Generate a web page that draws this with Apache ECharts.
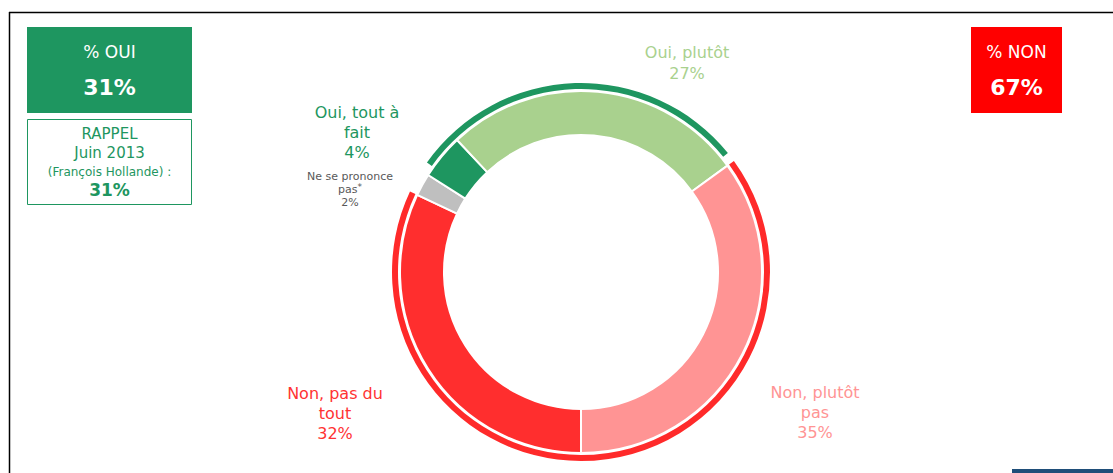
<!DOCTYPE html>
<html>
<head>
<meta charset="utf-8">
<script src="https://cdn.jsdelivr.net/npm/echarts@6/dist/echarts.min.js"></script>
<style>
html,body{margin:0;padding:0;background:#fff;}
#chart{width:1113px;height:473px;}
</style>
</head>
<body>
<div id="chart"></div>
<script>
// ---- Data ----
const categories = ['Non, pas du tout', 'Ne se prononce pas', 'Oui, tout à fait', 'Oui, plutôt', 'Non, plutôt pas'];
const values = [32, 2, 4, 27, 35];
const groups = ['non', 'nsp', 'oui', 'oui', 'non'];
const labelTexts = ['Non, pas du\ntout', 'Ne se prononce\npas{sup|*}', 'Oui, tout à\nfait', 'Oui, plutôt', 'Non, plutôt\npas'];
const ouiTitle = '% OUI';
const nonTitle = '% NON';
const rappelLines = ['RAPPEL', 'Juin 2013', '(François Hollande) :'];
const rappelValue = 31;

// ---- Styles ----
const FONT = '"DejaVu Sans", Verdana, sans-serif';
const GREEN_DARK = '#1e9660';
const RED = '#ff0000';
const segColors = ['#ff2e2e', '#bfbfbf', '#1e9660', '#a9d18e', '#ff9494'];
const labelColors = ['#ff3333', '#595959', '#1e9660', '#a9d18e', '#ff9494'];
const labelPos = [[335, 413], [350, 189], [357, 132], [687, 63], [815, 412]];
const labelSizes = [16, 11, 16, 16, 16];
const labelLH = [20, 13, 20, 21, 20];
const CENTER = [581, 272];
const GAP_DEG = 3;

const sum = (g) => values.reduce((s, v, i) => s + (groups[i] === g ? v : 0), 0);
const ouiTotal = sum('oui');
const nonTotal = sum('non');
const gap = GAP_DEG / 3.6;

const mainData = categories.map((c, i) => ({
  name: c,
  value: values[i],
  itemStyle: { color: segColors[i] },
  label: {
    formatter: labelTexts[i] + '\n' + values[i] + '%',
    color: labelColors[i],
    fontSize: labelSizes[i],
    lineHeight: labelLH[i],
    rich: { sup: { fontSize: 9, verticalAlign: 'top', color: labelColors[i], lineHeight: 10, padding: [0, 0, 5, 0] } }
  }
}));

// outer group arcs
const outerData = [];
values.forEach((v, i) => {
  if (groups[i] === 'non') outerData.push({ value: v, itemStyle: { color: '#ff2a2a' } });
  else if (groups[i] === 'nsp') outerData.push({ value: v + gap, itemStyle: { color: 'rgba(0,0,0,0)' } });
});
const ouiArc = [
  { value: ouiTotal - 2 * gap, itemStyle: { color: GREEN_DARK } },
  { value: gap, itemStyle: { color: 'rgba(0,0,0,0)' } }
];
outerData.splice(2, 0, ...ouiArc);

const chart = echarts.init(document.getElementById('chart'), null, { renderer: 'svg' });

const boxText = (x, y, text, size, color, bold) => ({
  type: 'text', x: x, y: y, silent: true,
  style: { text: text, fill: color, font: (bold ? 'bold ' : '') + size + 'px ' + FONT, align: 'center', verticalAlign: 'middle' }
});

chart.setOption({
  animation: false,
  textStyle: { fontFamily: FONT },
  series: [
    {
      type: 'pie',
      center: CENTER,
      radius: [137, 181],
      startAngle: 270,
      clockwise: true,
      silent: true,
      avoidLabelOverlap: false,
      itemStyle: { borderColor: '#fff', borderWidth: 2 },
      label: { show: true, position: 'outside', fontFamily: FONT, align: 'center' },
      labelLine: { show: false },
      labelLayout: function (p) {
        return { x: labelPos[p.dataIndex][0], y: labelPos[p.dataIndex][1], align: 'center', verticalAlign: 'middle' };
      },
      data: mainData
    },
    {
      type: 'pie',
      center: CENTER,
      radius: [183, 189],
      startAngle: 270,
      clockwise: true,
      silent: true,
      label: { show: false },
      labelLine: { show: false },
      data: outerData
    }
  ],
  graphic: [
    { type: 'line', silent: true, shape: { x1: 9, y1: 12.5, x2: 1113, y2: 12.5 }, style: { stroke: '#000', lineWidth: 1.5 } },
    { type: 'line', silent: true, shape: { x1: 9.5, y1: 12, x2: 9.5, y2: 473 }, style: { stroke: '#000', lineWidth: 1.5 } },
    { type: 'rect', silent: true, shape: { x: 1012, y: 469, width: 101, height: 4 }, style: { fill: '#1f4e79' } },
    { type: 'rect', silent: true, shape: { x: 27, y: 27, width: 165, height: 86 }, style: { fill: GREEN_DARK } },
    boxText(109.5, 52, ouiTitle, 17, '#fff', false),
    boxText(109.5, 87, ouiTotal + '%', 22, '#fff', true),
    { type: 'rect', silent: true, shape: { x: 27.5, y: 119.5, width: 164, height: 85 }, style: { fill: '#fff', stroke: GREEN_DARK, lineWidth: 1 } },
    boxText(109.5, 134, rappelLines[0], 15, GREEN_DARK, false),
    boxText(109.5, 153, rappelLines[1], 15, GREEN_DARK, false),
    boxText(109.5, 172, rappelLines[2], 12, GREEN_DARK, false),
    boxText(109.5, 190, rappelValue + '%', 17, GREEN_DARK, true),
    { type: 'rect', silent: true, shape: { x: 971, y: 27, width: 91, height: 86 }, style: { fill: RED } },
    boxText(1016.5, 52, nonTitle, 17, '#fff', false),
    boxText(1016.5, 87, nonTotal + '%', 22, '#fff', true)
  ]
});
</script>
</body>
</html>
